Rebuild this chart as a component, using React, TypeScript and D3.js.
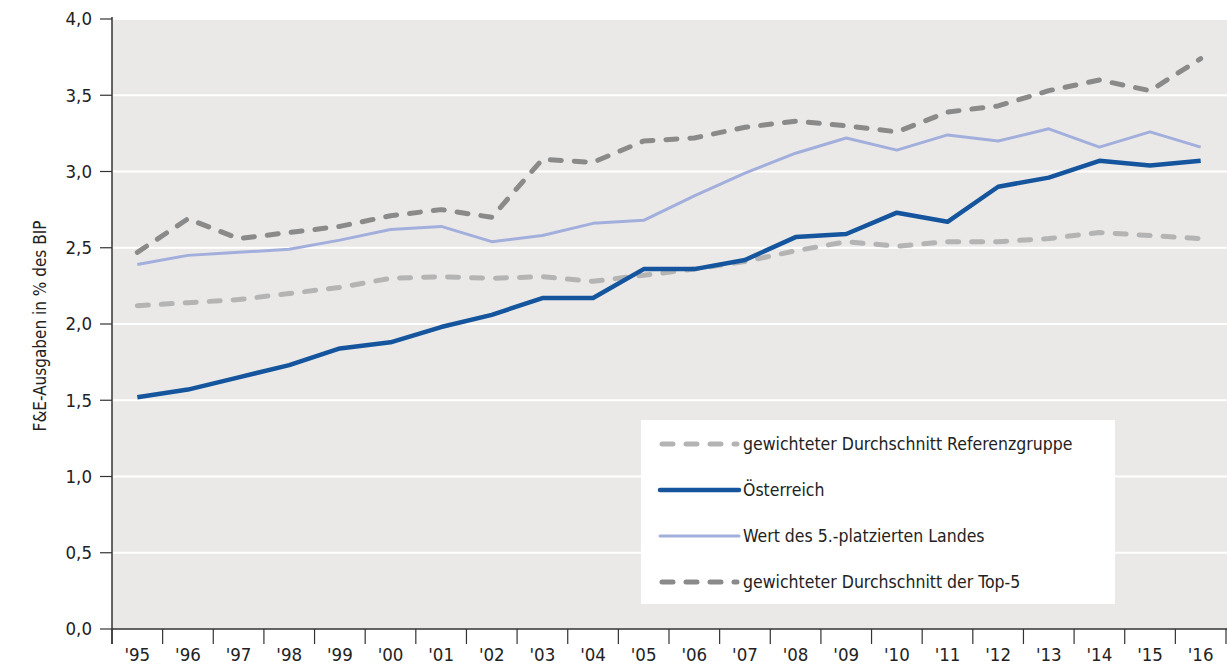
import React from "react";
import * as d3 from "d3";

const years = ["'95", "'96", "'97", "'98", "'99", "'00", "'01", "'02", "'03", "'04", "'05", "'06", "'07", "'08", "'09", "'10", "'11", "'12", "'13", "'14", "'15", "'16"];
const referenz = [2.12, 2.14, 2.16, 2.2, 2.24, 2.3, 2.31, 2.3, 2.31, 2.28, 2.32, 2.36, 2.41, 2.48, 2.54, 2.51, 2.54, 2.54, 2.56, 2.6, 2.58, 2.56];
const oesterreich = [1.52, 1.57, 1.65, 1.73, 1.84, 1.88, 1.98, 2.06, 2.17, 2.17, 2.36, 2.36, 2.42, 2.57, 2.59, 2.73, 2.67, 2.9, 2.96, 3.07, 3.04, 3.07];
const fuenfter = [2.39, 2.45, 2.47, 2.49, 2.55, 2.62, 2.64, 2.54, 2.58, 2.66, 2.68, 2.84, 2.99, 3.12, 3.22, 3.14, 3.24, 3.2, 3.28, 3.16, 3.26, 3.16];
const top5 = [2.47, 2.69, 2.56, 2.6, 2.64, 2.71, 2.75, 2.7, 3.08, 3.06, 3.2, 3.22, 3.29, 3.33, 3.3, 3.26, 3.39, 3.43, 3.53, 3.6, 3.53, 3.74];
const yTicks = [0, 0.5, 1, 1.5, 2, 2.5, 3, 3.5, 4];

const series = [
  { name: "gewichteter Durchschnitt Referenzgruppe", values: referenz, color: "#b4b4b4", width: 5, dash: "11,13" },
  { name: "Österreich", values: oesterreich, color: "#15559e", width: 4.5, dash: null },
  { name: "Wert des 5.-platzierten Landes", values: fuenfter, color: "#a2afdc", width: 3, dash: null },
  { name: "gewichteter Durchschnitt der Top-5", values: top5, color: "#8a8a8a", width: 5, dash: "11,13" },
];

const W = 1227;
const H = 665;
const left = 112;
const right = 1226;
const top = 19;
const bottom = 629;
const font = "'DejaVu Sans Condensed', 'Liberation Sans Narrow', sans-serif";

export default function App() {
  const x = d3.scaleBand().domain(years).range([left, right]);
  const y = d3.scaleLinear().domain([0, 4]).range([bottom, top]);
  const line = d3
    .line<number>()
    .x((_, i) => (x(years[i]) as number) + x.bandwidth() / 2)
    .y((d) => y(d));

  // gray dashed lines go behind the blue ones
  const drawOrder = [0, 3, 2, 1];

  return (
    <div style={{ position: "absolute", left: 0, top: 0 }}>
      <svg width={W} height={H} style={{ display: "block", background: "#fff" }}>
        <rect x={left} y={top} width={W - left} height={bottom - top} fill="#ebe9e7" />
        {yTicks.map((t) => (
          <g key={t}>
            {t > 0 && <line x1={left} x2={W} y1={y(t)} y2={y(t)} stroke="#fff" strokeWidth={2} />}
            <line x1={100} x2={left} y1={y(t)} y2={y(t)} stroke="#333" strokeWidth={1.2} />
            <text x={92} y={y(t)} dy="0.35em" textAnchor="end" fontFamily={font} fontSize={18.5} fill="#222">
              {d3.format(".1f")(t).replace(".", ",")}
            </text>
          </g>
        ))}
        {drawOrder.map((k) => {
          const s = series[k];
          return (
            <path
              key={s.name}
              d={line(s.values) as string}
              fill="none"
              stroke={s.color}
              strokeWidth={s.width}
              strokeDasharray={s.dash ?? undefined}
              strokeLinecap={s.dash ? "round" : "butt"}
              strokeLinejoin="round"
            />
          );
        })}
        <line x1={left} x2={left} y1={top - 2} y2={bottom + 15} stroke="#333" strokeWidth={1.5} />
        <line x1={left} x2={W} y1={bottom} y2={bottom} stroke="#333" strokeWidth={1.5} />
        {years.map((yr) => (
          <g key={yr}>
            <line x1={x(yr) as number} x2={x(yr) as number} y1={bottom} y2={bottom + 15} stroke="#333" strokeWidth={1.2} />
            <text x={(x(yr) as number) + x.bandwidth() / 2} y={661} textAnchor="middle" fontFamily={font} fontSize={18.5} fill="#222">
              {yr}
            </text>
          </g>
        ))}
        <line x1={right} x2={right} y1={bottom} y2={bottom + 15} stroke="#333" strokeWidth={1.2} />
        <text
          transform={`translate(46,${(top + bottom) / 2 + 2}) rotate(-90)`}
          textAnchor="middle"
          fontFamily={font}
          fontSize={17}
          fill="#222"
        >
          F&amp;E-Ausgaben in % des BIP
        </text>
        <rect x={641} y={420} width={474} height={184} fill="#fff" />
        {series.map((s, i) => {
          const ly = 444 + i * 46;
          return (
            <g key={s.name}>
              <line
                x1={s.dash ? 662 : 660}
                x2={s.dash ? 737 : 739}
                y1={ly}
                y2={ly}
                stroke={s.color}
                strokeWidth={s.width}
                strokeDasharray={s.dash ?? undefined}
                strokeLinecap="round"
              />
              <text x={743} y={ly} dy="0.35em" fontFamily={font} fontSize={17.5} fill="#222">
                {s.name}
              </text>
            </g>
          );
        })}
      </svg>
    </div>
  );
}
